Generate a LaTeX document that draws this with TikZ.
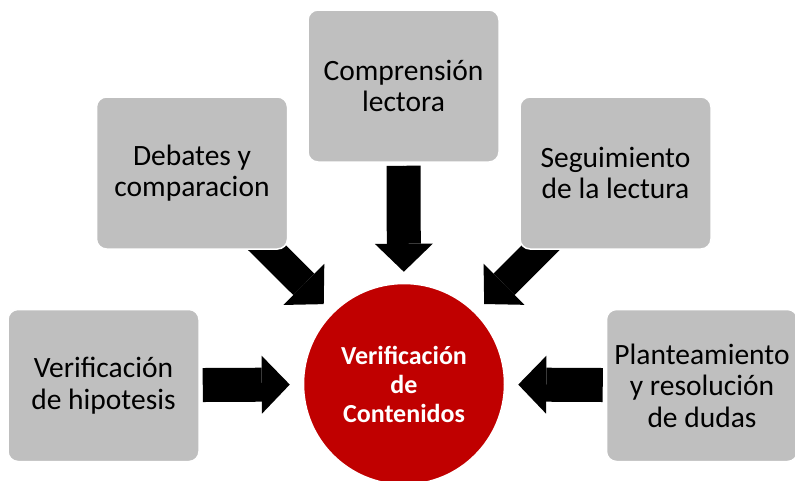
\documentclass[tikz,border=0pt]{standalone}
\usepackage{fontspec}
\setmainfont{Carlito}
\usetikzlibrary{arrows.meta,backgrounds}
\definecolor{boxgray}{HTML}{BFBFBF}
\definecolor{darkred}{HTML}{C00000}
\begin{document}
\begin{tikzpicture}[x=1pt,y=-1pt]
      \useasboundingbox (0,0) rectangle (795,480);

      \begin{scope}[every node/.style={rectangle, rounded corners=10pt, fill=boxgray, draw=white, line width=1.5pt,
          minimum width=191pt, minimum height=152pt, align=center, font=\fontsize{29.5}{31.5}\selectfont}]
        \node (1) at (403.5,86)  {Comprensión\\lectora};
        \node (2) at (192,173)   {Debates y\\comparacion};
        \node (3) at (615.5,173) {Seguimiento\\de la lectura};
        \node (4) at (103.5,385.5) {Verificación\\de hipotesis};
        \node (5) at (702,385.5) {Planteamiento\\y resolución\\de dudas};
      \end{scope}

      \node[circle, fill=darkred, draw=white, line width=1.5pt, minimum size=201pt, text=white, align=center,
        font=\fontsize{26}{29}\selectfont\bfseries] (0) at (404,384) {Verificación\\de\\Contenidos};

      \begin{pgfonlayer}{background}
        \begin{scope}[every edge/.style={draw, line width=34pt, -{Triangle[length=28pt,width=58pt,line width=0pt]},
            preaction={draw, -, shorten >=32pt}}]
          \path (1) edge[shorten <=3pt, shorten >=11pt] (0);
          \path (4) edge[shorten <=3pt, shorten >=13pt] (0);
          \path (5) edge[shorten <=3pt, shorten >=13pt] (0);
          \path (2) edge[line width=30pt, shorten <=-20pt, shorten >=12pt] (0);
          \path (3) edge[line width=30pt, shorten <=-20pt, shorten >=12pt] (0);
        \end{scope}
      \end{pgfonlayer}

    \end{tikzpicture}
\end{document}
